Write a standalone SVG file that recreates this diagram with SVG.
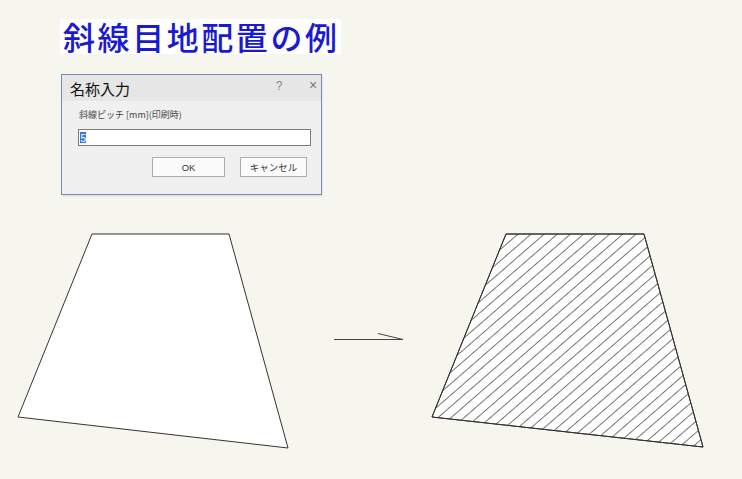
<svg xmlns="http://www.w3.org/2000/svg" width="742" height="479" viewBox="0 0 742 479">
<defs>
<style>
.jp{font-family:"Noto Sans CJK JP","Noto Sans",sans-serif}
.shape{fill:#fff;stroke:#333;stroke-width:1}
.btn{fill:#fbfbfb;stroke:#adadad;stroke-width:1}
.conn{stroke:#444;stroke-width:1;fill:none}
</style>
<pattern id="hatch" patternUnits="userSpaceOnUse" width="20" height="8.6" patternTransform="rotate(-41)">
<line x1="0" y1="0.5" x2="20" y2="0.5" stroke="#444" stroke-width="0.75"/>
</pattern>
</defs>
<rect width="742" height="479" fill="#f6f6ef"/>
<g id="title">
<rect x="60" y="19" width="281" height="35" fill="#ffffff"/>
<text x="63" y="50" class="jp" font-size="32" font-weight="500" fill="#1a1ad0" textLength="274" lengthAdjust="spacing">斜線目地配置の例</text>
</g>
<g id="dialog">
<rect x="62.5" y="75.5" width="260" height="121" fill="#c8c8c8" opacity="0.5"/>
<rect x="61.5" y="74.5" width="260" height="120" fill="#f0f0f0" stroke="#6f8fae" stroke-width="1"/>
<rect x="62" y="75" width="259" height="26" fill="#e6e6e6"/>
<text x="70" y="95" class="jp" font-size="15" fill="#111">名称入力</text>
<text x="279" y="90" font-family="Liberation Sans,sans-serif" font-size="12" fill="#888" text-anchor="middle">?</text>
<text x="313" y="90" font-family="Liberation Sans,sans-serif" font-size="14" fill="#777" text-anchor="middle">×</text>
<text x="79" y="118" class="jp" font-size="9" fill="#444">斜線ピッチ [mm](印刷時)</text>
<rect x="78.5" y="129.5" width="232" height="16" fill="#fff" stroke="#7a7a7a"/>
<rect x="80" y="132" width="6" height="11" fill="#3377dd"/>
<text x="80.5" y="141.5" font-family="Liberation Sans,sans-serif" font-size="10" fill="#fff">5</text>
<rect class="btn" x="152.5" y="157.5" width="72" height="19"/>
<text x="188.5" y="171" font-family="Liberation Sans,sans-serif" font-size="9.5" fill="#333" text-anchor="middle">OK</text>
<rect class="btn" x="240.5" y="157.5" width="66" height="19"/>
<text x="273.5" y="171" class="jp" font-size="9.5" fill="#333" text-anchor="middle">キャンセル</text>
</g>
<g id="before">
<polygon class="shape" points="92,234 229,234 288,448 18,417"/>
</g>
<g id="after">
<polygon class="shape" points="506,234 644,234 703,447 432,417"/>
<polygon points="506,234 644,234 703,447 432,417" fill="url(#hatch)" stroke="#333" stroke-width="1"/>
</g>
<g id="connectors">
<path class="conn" d="M334,339.5 H403 M378,333.5 L403,339.5"/>
</g>
</svg>
